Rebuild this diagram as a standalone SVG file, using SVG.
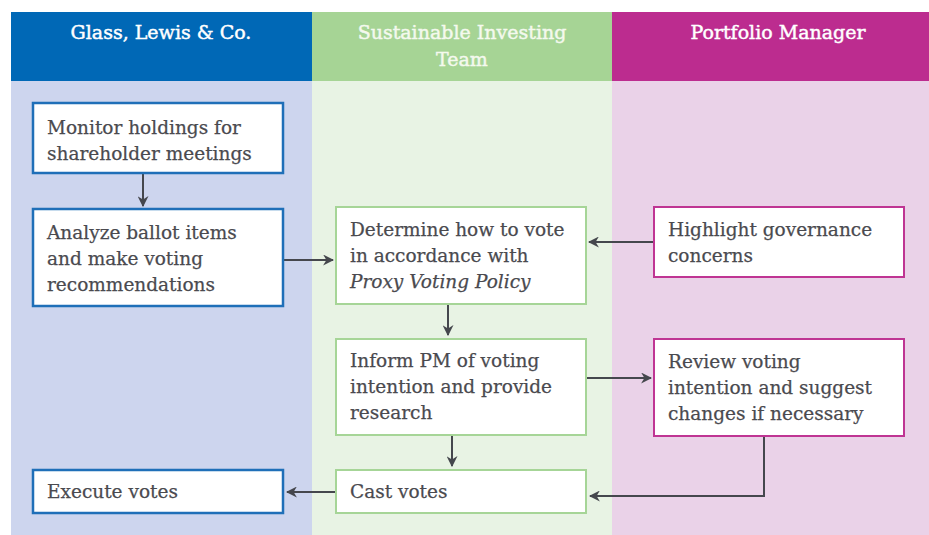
<svg xmlns="http://www.w3.org/2000/svg" width="929" height="535" viewBox="0 0 929 535">
<defs>
<marker id="ah" viewBox="0 0 10 10" refX="9" refY="5" markerWidth="5.5" markerHeight="5.5" orient="auto" markerUnits="strokeWidth">
<path d="M0,0 L10,5 L0,10 L3,5 Z" fill="#45474d"/>
</marker>
<style>
.hd{font-family:"DejaVu Serif","Liberation Serif",serif;font-size:19px;fill:#ffffff;stroke:#ffffff;stroke-width:0.45;text-anchor:middle}
.tx{font-family:"DejaVu Serif","Liberation Serif",serif;font-size:18.5px;fill:#4a4a4f;stroke:#4a4a4f;stroke-width:0.25}
.bb{fill:#ffffff;stroke:#1f6fb8;stroke-width:2.5}
.gb{fill:#ffffff;stroke:#a6d597;stroke-width:2}
.mb{fill:#ffffff;stroke:#bf3593;stroke-width:2}
.cn{fill:none;stroke:#45474d;stroke-width:2;marker-end:url(#ah)}
</style>
</defs>
<rect x="0" y="0" width="929" height="535" fill="#ffffff"/>
<g id="lanes">
<rect x="11" y="80" width="301" height="455" fill="#cdd5ee"/>
<rect x="312" y="80" width="300" height="455" fill="#e8f3e4"/>
<rect x="612" y="80" width="317" height="455" fill="#ead2e8"/>
<rect x="11" y="12" width="301" height="69" fill="#0068b6"/>
<rect x="312" y="12" width="300" height="69" fill="#a6d495"/>
<rect x="612" y="12" width="317" height="69" fill="#bc2c8f"/>
<text class="hd" x="161" y="39">Glass, Lewis &amp; Co.</text>
<text class="hd" x="462" y="39" style="fill:#f4f9ee;stroke:#f4f9ee">Sustainable Investing</text>
<text class="hd" x="462" y="66" style="fill:#f4f9ee;stroke:#f4f9ee">Team</text>
<text class="hd" x="778" y="39">Portfolio Manager</text>
</g>
<g id="connectors">
<line class="cn" x1="143" y1="173" x2="143" y2="206"/>
<line class="cn" x1="283" y1="260" x2="333" y2="260"/>
<line class="cn" x1="654" y1="242" x2="589" y2="242"/>
<line class="cn" x1="448" y1="304" x2="448" y2="335"/>
<line class="cn" x1="586" y1="378" x2="651" y2="378"/>
<line class="cn" x1="452" y1="435" x2="452" y2="466"/>
<polyline class="cn" points="764,436 764,496 590,496"/>
<line class="cn" x1="336" y1="492" x2="287" y2="492"/>
</g>
<g id="n_monitor">
<rect class="bb" x="33" y="103" width="250" height="70"/>
<text class="tx" x="47" y="134">Monitor holdings for</text>
<text class="tx" x="47" y="160">shareholder meetings</text>
</g>
<g id="n_analyze">
<rect class="bb" x="33" y="209" width="250" height="97"/>
<text class="tx" x="47" y="239">Analyze ballot items</text>
<text class="tx" x="47" y="265">and make voting</text>
<text class="tx" x="47" y="291">recommendations</text>
</g>
<g id="n_determine">
<rect class="gb" x="336" y="207" width="250" height="97"/>
<text class="tx" x="350" y="236">Determine how to vote</text>
<text class="tx" x="350" y="262">in accordance with</text>
<text class="tx" x="350" y="288" font-style="italic">Proxy Voting Policy</text>
</g>
<g id="n_inform">
<rect class="gb" x="336" y="339" width="250" height="96"/>
<text class="tx" x="350" y="367">Inform PM of voting</text>
<text class="tx" x="350" y="393">intention and provide</text>
<text class="tx" x="350" y="419">research</text>
</g>
<g id="n_highlight">
<rect class="mb" x="654" y="207" width="250" height="70"/>
<text class="tx" x="668" y="236">Highlight governance</text>
<text class="tx" x="668" y="262">concerns</text>
</g>
<g id="n_review">
<rect class="mb" x="654" y="339" width="250" height="97"/>
<text class="tx" x="668" y="368">Review voting</text>
<text class="tx" x="668" y="394">intention and suggest</text>
<text class="tx" x="668" y="420">changes if necessary</text>
</g>
<g id="n_execute">
<rect class="bb" x="33" y="470" width="250" height="43"/>
<text class="tx" x="47" y="498">Execute votes</text>
</g>
<g id="n_cast">
<rect class="gb" x="336" y="470" width="250" height="43"/>
<text class="tx" x="350" y="498">Cast votes</text>
</g>
</svg>
